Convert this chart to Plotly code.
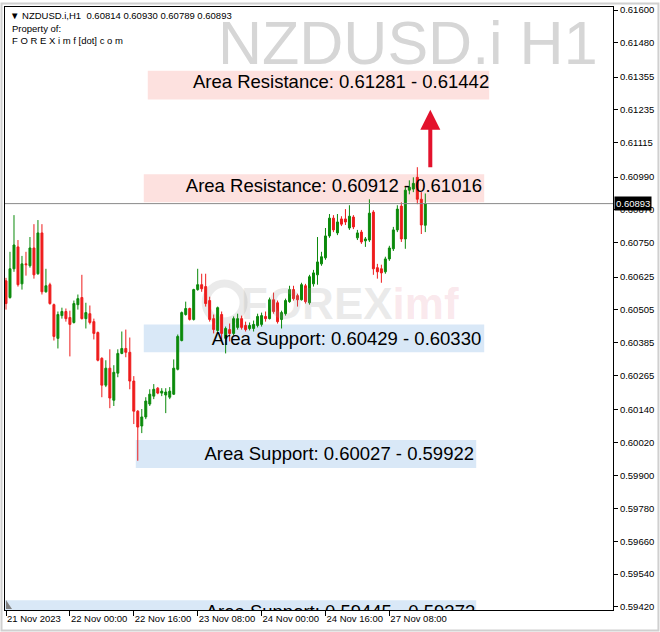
import plotly.graph_objects as go

# ---------------- data (price points, x 1e-5) ----------------
opens = [60611,60550,60655,60735,60600,60673,60666,60731,60637,60786,60571,60597,60524,60401,60484,60499,60477,60459,60524,60550,
         60473,60491,60462,60422,60328,60230,60292,60175,60274,60346,60364,60350,60245,60135,60081,60114,60161,60190,60219,60201,
         60194,60186,60197,60288,60393,60488,60510,60470,60579,60597,60590,60539,60473,60430,60488,60401,60433,60419,60441,60473,
         60448,60437,60437,60448,60452,60481,60473,60542,60531,60470,60491,60535,60579,60557,60542,60593,60531,60600,60633,60673,
         60695,60775,60840,60786,60837,60837,60804,60844,60768,60789,60757,60760,60862,60659,60655,60644,60691,60728,60797,60884,
         60764,60942,60946,60989,60909,60814]
highs = [60622,60717,60851,60760,60702,60717,60771,60818,60833,60818,60655,60604,60528,60499,60513,60510,60502,60539,60561,60633,
         60531,60521,60473,60426,60332,60321,60361,60303,60361,60426,60433,60404,60263,60139,60143,60186,60215,60234,60223,60219,
         60219,60223,60324,60415,60499,60535,60513,60582,60655,60637,60637,60553,60488,60517,60499,60444,60455,60481,60491,60484,
         60462,60459,60466,60491,60495,60499,60550,60568,60539,60502,60546,60593,60593,60564,60604,60600,60633,60651,60771,60717,
         60804,60855,60851,60855,60847,60873,60887,60851,60797,60797,60771,60909,60869,60673,60670,60699,60739,60808,60887,60898,
         60953,60978,60989,61026,60935,60930]
lows = [60506,60546,60644,60590,60579,60630,60659,60619,60633,60561,60568,60524,60393,60364,60473,60462,60335,60455,60506,60470,
        60437,60452,60397,60317,60186,60223,60146,60154,60259,60343,60332,60215,60088,59954,60055,60106,60154,60179,60197,60190,
        60128,60179,60194,60284,60390,60484,60466,60466,60575,60571,60517,60462,60419,60422,60390,60346,60390,60412,60433,60433,
        60426,60430,60426,60441,60444,60462,60470,60491,60455,60437,60484,60531,60539,60517,60539,60528,60524,60590,60597,60666,
        60688,60768,60789,60778,60811,60815,60797,60800,60760,60746,60735,60753,60633,60619,60604,60637,60684,60720,60789,60753,
        60728,60927,60935,60891,60782,60789]
closes = [60528,60655,60742,60597,60673,60670,60731,60633,60786,60571,60593,60528,60408,60488,60499,60473,60452,60528,60546,60473,
          60495,60459,60419,60321,60230,60292,60183,60277,60346,60364,60350,60245,60135,60077,60114,60172,60197,60215,60201,60208,
          60205,60208,60292,60408,60495,60510,60470,60579,60597,60582,60528,60470,60433,60513,60419,60437,60419,60473,60473,60441,
          60433,60448,60452,60481,60484,60473,60542,60499,60462,60495,60539,60579,60546,60542,60597,60535,60626,60640,60680,60699,
          60775,60840,60797,60826,60818,60826,60847,60808,60786,60753,60764,60858,60655,60644,60640,60691,60731,60797,60873,60764,
          60942,60953,60967,60909,60815,60893]

time_ticks = [0, 16, 32, 48, 64, 80, 96]
time_labels = ["21 Nov 2023", "22 Nov 00:00", "22 Nov 16:00", "23 Nov 08:00",
               "24 Nov 00:00", "24 Nov 16:00", "27 Nov 08:00"]
price_ticks = [0.61600, 0.61480, 0.61355, 0.61235, 0.61115, 0.60990, 0.60870, 0.60750, 0.60625,
               0.60505, 0.60385, 0.60265, 0.60140, 0.60020, 0.59900, 0.59780, 0.59660, 0.59540, 0.59420]

zone_labels = ["Area Resistance: 0.61281 - 0.61442", "Area Resistance: 0.60912 - 0.61016",
               "Area Support: 0.60429 - 0.60330", "Area Support: 0.60027 - 0.59922",
               "Area Support: 0.59445 - 0.59373"]
zone_kind = ["res", "res", "sup", "sup", "sup"]
zone_top = [0.61378, 0.61000, 0.60452, 0.60030, 0.59445]
zone_bot = [0.61273, 0.60898, 0.60350, 0.59928, 0.59344]
zone_x0 = [36, 35, 35, 33, 0]
zone_x1 = [121, 119.75, 119.75, 117.75, 117.75]
zone_text_x = [121, 119.2, 119, 117.2, 117.5]
zone_text_y = [0.61331, 0.60953, 0.60393, 0.59972, 0.59395]

last_price = 0.60893
header = "NZDUSD.i,H1  0.60814 0.60930 0.60789 0.60893"

# ---------------- figure ----------------
W, H = 660, 632
ML, MR, MT, MB = 4, 47, 4, 22
PW, PH = W - ML - MR, H - MT - MB

def px(x):
    return (x - ML) / PW

def py(y):
    return 1 - (y - MT) / PH

idx = list(range(len(opens)))
sc = 1e-5
GREEN = "#0b8a0b"
RED = "#ee1c1c"
FONT = "Liberation Sans"

fig = go.Figure()

fig.add_trace(go.Candlestick(
    x=idx,
    open=[v * sc for v in opens], high=[v * sc for v in highs],
    low=[v * sc for v in lows], close=[v * sc for v in closes],
    increasing=dict(line=dict(color=GREEN, width=1), fillcolor=GREEN),
    decreasing=dict(line=dict(color=RED, width=1), fillcolor=RED),
    whiskerwidth=0, hoverinfo="skip", showlegend=False,
))

fig.add_trace(go.Scatter(
    x=zone_text_x, y=zone_text_y, text=zone_labels, mode="text",
    textposition="middle left",
    textfont=dict(family=FONT, size=18.5, color="black"),
    cliponaxis=True, hoverinfo="skip", showlegend=False,
))

shapes = []
for k in range(len(zone_labels)):
    shapes.append(dict(
        type="rect", xref="x", yref="y", layer="below",
        x0=zone_x0[k] - 0.5, x1=zone_x1[k], y0=zone_bot[k], y1=zone_top[k],
        fillcolor="#fde1df" if zone_kind[k] == "res" else "#d9e8f7",
        line=dict(width=0),
    ))
shapes.append(dict(type="line", xref="paper", yref="y", x0=0, x1=1,
                   y0=last_price, y1=last_price, line=dict(color="#8a8a8a", width=1)))
# outer frame of the window
shapes.append(dict(type="rect", xref="paper", yref="paper",
                   x0=px(0.5), x1=px(W - 1.5), y0=py(H - 1.5), y1=py(0.5),
                   line=dict(color="#d0d0d0", width=2), layer="below"))
# logo ring of the watermark
shapes.append(dict(type="circle", xref="paper", yref="paper",
                   x0=px(205), x1=px(243), y0=py(320), y1=py(282),
                   line=dict(color="rgba(160,160,160,0.22)", width=8), layer="below"))
# small scroll marker in the lower-left corner
shapes.append(dict(type="path", xref="paper", yref="paper",
                   path=f"M {px(5)},{py(600)} L {px(11)},{py(609)} L {px(5)},{py(609)} Z",
                   fillcolor="#808080", line=dict(width=0)))

annotations = [
    dict(xref="paper", yref="paper", x=px(600), y=py(40), xanchor="right", yanchor="middle",
         text="NZDUSD.i H1", showarrow=False,
         font=dict(family=FONT, size=61, color="#d6d6d6")),
    dict(xref="paper", yref="paper", x=px(350), y=py(302), xanchor="center", yanchor="middle",
         text="<b><span style='color:rgba(160,160,160,0.22)'>FOREX</span>"
              "<span style='color:rgba(225,120,140,0.18)'>imf</span></b>",
         showarrow=False, font=dict(family=FONT, size=44)),
    dict(xref="paper", yref="paper", x=px(7), y=py(12.5), xanchor="left", yanchor="middle",
         text="▼ " + header, showarrow=False, font=dict(family=FONT, size=9.5, color="black")),
    dict(xref="paper", yref="paper", x=px(9), y=py(26), xanchor="left", yanchor="middle",
         text="Property of:", showarrow=False, font=dict(family=FONT, size=9.5, color="black")),
    dict(xref="paper", yref="paper", x=px(9), y=py(37.5), xanchor="left", yanchor="middle",
         text="F O R E X i m f [dot] c o m", showarrow=False,
         font=dict(family=FONT, size=9.5, color="black")),
    dict(xref="x", yref="y", x=106.25, y=0.61236, ax=0, ay=59, axref="pixel", ayref="pixel",
         text="", showarrow=True, arrowhead=2, arrowsize=1, arrowwidth=4, arrowcolor="#e3122c"),
    dict(xref="paper", yref="y", x=1, xshift=1, y=last_price, xanchor="left", yanchor="middle",
         text="0.60893", showarrow=False, bgcolor="black", borderpad=1,
         font=dict(family=FONT, size=9.5, color="white")),
]

fig.update_layout(
    width=W, height=H,
    margin=dict(l=ML, r=MR, t=MT, b=MB, pad=0),
    paper_bgcolor="white", plot_bgcolor="white",
    shapes=shapes, annotations=annotations,
    showlegend=False,
    xaxis=dict(range=[-0.25, 152], tickvals=time_ticks, ticktext=time_labels,
               ticks="outside", ticklen=5, tickcolor="black", tickwidth=1,
               ticklabelposition="outside right", tickangle=0,
               showgrid=False, zeroline=False, showline=True, linecolor="black", linewidth=1,
               mirror=True, rangeslider=dict(visible=False),
               tickfont=dict(family=FONT, size=9.5, color="black")),
    yaxis=dict(range=[0.59409, 0.61611], side="right", tickvals=price_ticks,
               ticktext=[f"{v:.5f}" for v in price_ticks],
               ticks="outside", ticklen=4, tickcolor="black", tickwidth=1,
               showgrid=False, zeroline=False, showline=True, linecolor="black", linewidth=1,
               mirror=True, tickfont=dict(family=FONT, size=9.5, color="black")),
)

fig.write_html("out.html", config={"displayModeBar": False},
               post_script="document.body.style.margin='0';")
